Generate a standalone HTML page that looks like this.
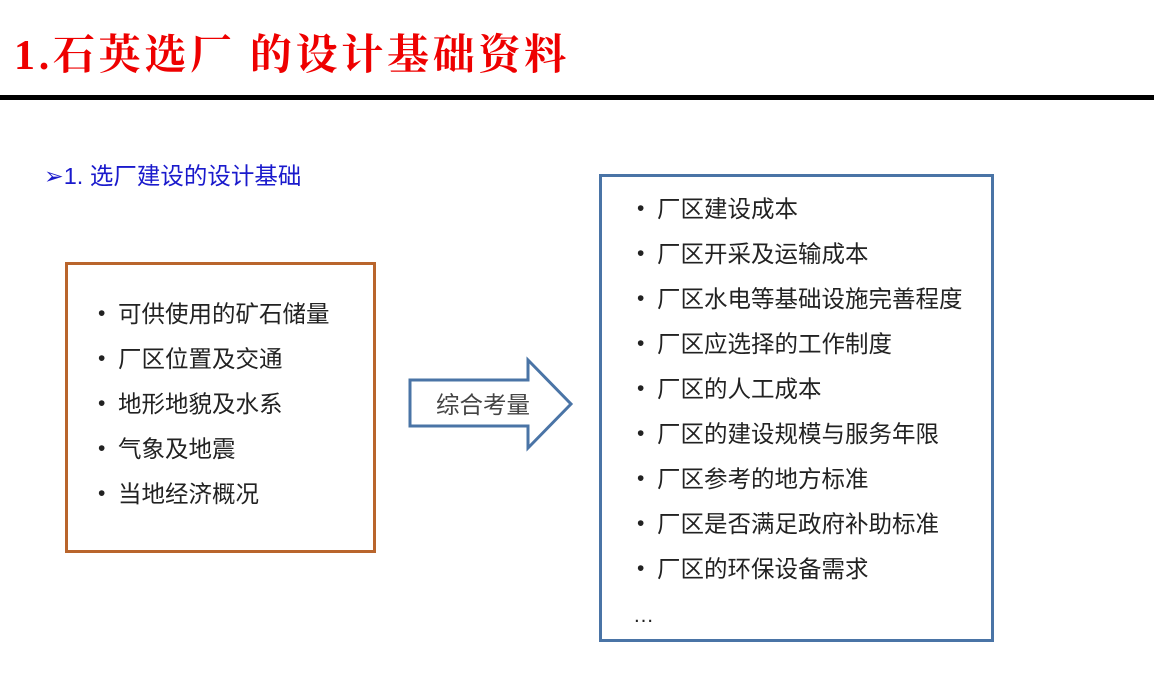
<!DOCTYPE html>
<html><head><meta charset="utf-8"><style>
body{margin:0;width:1154px;height:675px;background:#fff;position:relative;overflow:hidden;font-family:"Liberation Sans","Noto Sans CJK SC",sans-serif;}
.t{position:absolute;left:14px;top:22px;font-size:42px;color:#e00;font-family:"Liberation Serif","Noto Serif CJK SC",serif;letter-spacing:3.7px;white-space:nowrap;font-weight:bold}
.rule{position:absolute;left:0;top:95px;width:1154px;height:5px;background:#000}
.sub{position:absolute;left:44px;top:157px;font-size:23.5px;color:#1a1acc;white-space:nowrap}
.box{position:absolute;box-sizing:border-box}
.it{position:absolute;font-size:23.5px;color:#222;white-space:nowrap;line-height:26px}
.it:before{content:"•";position:absolute;left:-20px;font-size:21px}
</style></head><body>
<div class="t">1.石英选厂 的设计基础资料</div>
<div class="rule"></div>
<div class="sub">➢1. 选厂建设的设计基础</div>
<div class="box" style="left:65px;top:262px;width:311px;height:291px;border:3px solid #b9652c"></div>
<div class="it" style="left:118px;top:301px">可供使用的矿石储量</div>
<div class="it" style="left:118px;top:346px">厂区位置及交通</div>
<div class="it" style="left:118px;top:391px">地形地貌及水系</div>
<div class="it" style="left:118px;top:436px">气象及地震</div>
<div class="it" style="left:118px;top:481px">当地经济概况</div>
<svg style="position:absolute;left:0;top:0" width="1154" height="675">
<polygon points="410,380 528,380 528,360 571,404 528,448 528,426 410,426" fill="#fff" stroke="#4a74a6" stroke-width="3"/>
<text x="436" y="413" font-size="23.5" fill="#444" font-family="Liberation Sans, Noto Sans CJK SC, sans-serif">综合考量</text>
</svg>
<div class="box" style="left:599px;top:174px;width:395px;height:468px;border:3px solid #4a74a6"></div>
<div class="it" style="left:657px;top:196px">厂区建设成本</div>
<div class="it" style="left:657px;top:241px">厂区开采及运输成本</div>
<div class="it" style="left:657px;top:286px">厂区水电等基础设施完善程度</div>
<div class="it" style="left:657px;top:331px">厂区应选择的工作制度</div>
<div class="it" style="left:657px;top:376px">厂区的人工成本</div>
<div class="it" style="left:657px;top:421px">厂区的建设规模与服务年限</div>
<div class="it" style="left:657px;top:466px">厂区参考的地方标准</div>
<div class="it" style="left:657px;top:511px">厂区是否满足政府补助标准</div>
<div class="it" style="left:657px;top:556px">厂区的环保设备需求</div>
<div style="position:absolute;left:633px;top:604px;font-size:21px;color:#222">…</div>
</body></html>
